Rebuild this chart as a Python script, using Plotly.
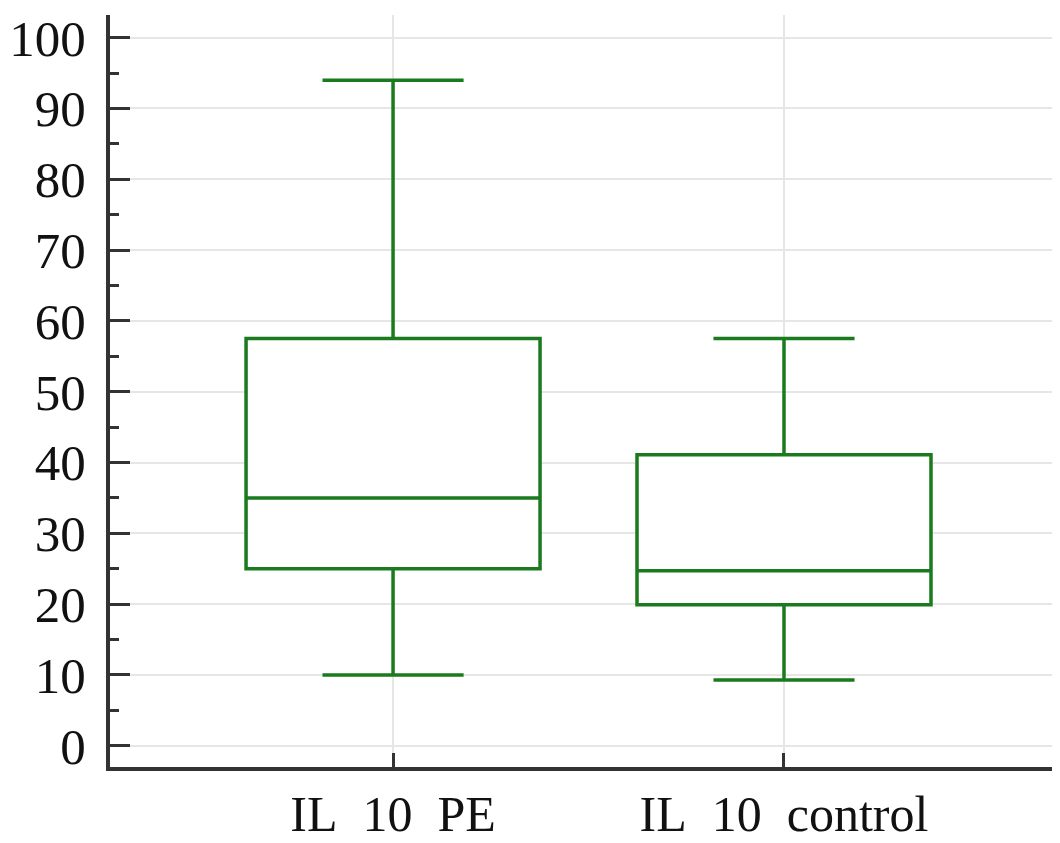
import plotly.graph_objects as go

categories = ["IL\u00a0\u00a010\u00a0\u00a0PE", "IL\u00a0\u00a010\u00a0\u00a0control"]
positions = [0, 1]
lower_fence = [10.0, 9.3]
q1_vals = [25.0, 19.9]
median_vals = [35.0, 24.7]
q3_vals = [57.5, 41.1]
upper_fence = [94.0, 57.5]
y_ticks = [0, 10, 20, 30, 40, 50, 60, 70, 80, 90, 100]

GREEN = "#1b7a1e"
AXIS = "#333333"
FONT = "Liberation Serif, Times New Roman, serif"

fig = go.Figure()
for i in range(len(categories)):
    fig.add_trace(go.Box(
        x=[positions[i]],
        q1=[q1_vals[i]], median=[median_vals[i]], q3=[q3_vals[i]],
        lowerfence=[lower_fence[i]], upperfence=[upper_fence[i]],
        width=0.752, whiskerwidth=0.48,
        fillcolor="white",
        line=dict(color=GREEN, width=3.5),
        boxpoints=False, showlegend=False, hoverinfo="skip",
    ))

# page body has an 8px default margin; margins compensate for it
fig.update_layout(
    width=1060, height=843,
    margin=dict(l=102, r=8, t=7, b=84),
    paper_bgcolor="white", plot_bgcolor="white",
    font=dict(family=FONT, color="#111111"),
    xaxis=dict(
        range=[-0.724, 1.706],
        tickvals=positions, ticktext=categories,
        tickfont=dict(size=50, family=FONT, color="#111111"),
        ticks="inside", ticklen=14, tickwidth=3, tickcolor=AXIS,
        showline=True, linewidth=4, linecolor=AXIS,
        showgrid=True, gridcolor="#e6e6e6", gridwidth=2,
        zeroline=False, ticklabelstandoff=0, automargin=False,
    ),
    yaxis=dict(
        range=[-3, 103.2],
        tickvals=y_ticks,
        tickfont=dict(size=51, family=FONT, color="#111111"),
        ticks="inside", ticklen=20, tickwidth=3, tickcolor=AXIS,
        minor=dict(dtick=5, ticks="inside", ticklen=9, tickwidth=3, tickcolor=AXIS, showgrid=False),
        showline=True, linewidth=4, linecolor=AXIS,
        showgrid=True, gridcolor="#e6e6e6", gridwidth=2,
        zeroline=False, ticklabelstandoff=10, automargin=False,
    ),
)

fig.write_html("out.html")
